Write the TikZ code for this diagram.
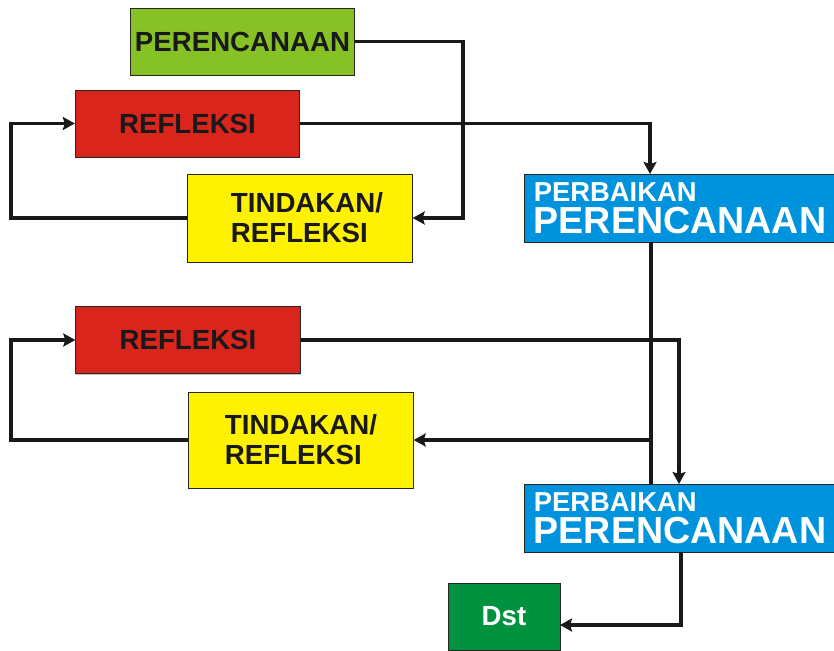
\documentclass[tikz,border=0pt]{standalone}
\usepackage{fontspec}
\setmainfont{Liberation Sans}
\usetikzlibrary{arrows.meta,shadows}
\definecolor{planfill}{RGB}{134,193,38}
\definecolor{reffill}{RGB}{218,37,29}
\definecolor{actfill}{RGB}{255,242,0}
\definecolor{fixfill}{RGB}{0,147,221}
\definecolor{dstfill}{RGB}{0,146,63}
\begin{document}
\begin{tikzpicture}
[x=0.3mm,y=-0.3mm,
  boxdecorate/.style={shape=rectangle,draw=black!85,line width=0.6pt,inner sep=0pt,%
    font=\bfseries\fontsize{23.6}{25.6}\selectfont,text=black!90,align=left,%
    minimum width=67.4mm,minimum height=20.1mm,%
    drop shadow={shadow xshift=0.4pt,shadow yshift=-0.9pt,fill=black!45}},%
  fixdecorate/.style={boxdecorate,fill=fixfill,text=white,%
    minimum width=93.6mm,minimum height=20.4mm,font=\bfseries\fontsize{23.4}{27}\selectfont},%
  linedecorate/.style={line width=2.6pt,draw=black!90},%
  arrowdecorate/.style={linedecorate,-{Stealth[length=3.6mm,width=3.9mm,inset=0.6mm]}}]
\clip (0,0) rectangle (834,650);
%% nodes or vertices
\node (plan) at (242.5,41.5) [boxdecorate,fill=planfill] {PERENCANAAN};
\node (refa) at (187.5,123.5) [boxdecorate,fill=reffill] {REFLEKSI};
\node (acta) at (300,218) [boxdecorate,fill=actfill,minimum height=26.4mm]
  {\hspace*{4.2mm}TINDAKAN/\\\hspace*{4.2mm}REFLEKSI};
\node (fixa) at (680,208) [fixdecorate] {PERBAIKAN\\{\fontsize{32.1}{27}\selectfont PERENCANAAN}};
\node (refb) at (188,340) [boxdecorate,fill=reffill] {REFLEKSI};
\node (actb) at (301,440) [boxdecorate,fill=actfill,minimum height=28.8mm] {TINDAKAN/\\REFLEKSI};
\node (fixb) at (680,518) [fixdecorate] {PERBAIKAN\\{\fontsize{32.1}{27}\selectfont PERENCANAAN}};
\node (dst) at (504,616.5) [boxdecorate,fill=dstfill,text=white,minimum width=33.6mm] {Dst};
%% turning points of the lines
\coordinate (planturn) at (463,0);
\coordinate (loopx) at (11,0);
\coordinate (fixain) at (650,174);
\coordinate (fixaout) at (651,242);
\coordinate (fixbin) at (679,484);
\coordinate (fixbout) at (681,552);
\coordinate (dstin) at (560,625);
%% edges or lines
\draw[arrowdecorate] (plan.east) -- (plan.east -| planturn) |- (acta.east);
\draw[arrowdecorate] (refa.east) -| (fixain);
\draw[arrowdecorate] (acta.west) -- (acta.west -| loopx) |- (refa.west);
\path (fixaout) edge[linedecorate] (fixaout |- fixb.north);
\draw[arrowdecorate] (fixaout |- actb.east) -- (actb.east);
\draw[arrowdecorate] (refb.east) -| (fixbin);
\draw[arrowdecorate] (actb.west) -- (actb.west -| loopx) |- (refb.west);
\draw[arrowdecorate] (fixbout) |- (dstin);
\end{tikzpicture}
\end{document}
